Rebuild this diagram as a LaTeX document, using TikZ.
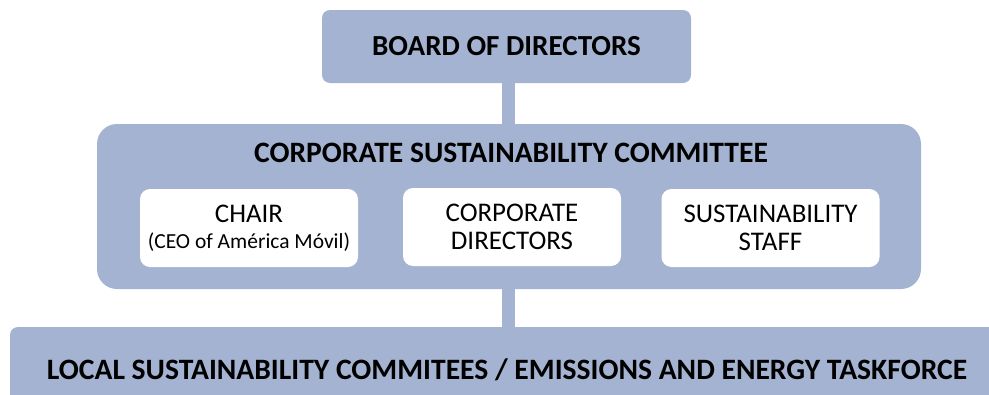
\documentclass[tikz,border=0pt]{standalone}
\usepackage{fontspec}
\setmainfont{Carlito}
\usepackage{tikz, xcolor}
\newcommand{\unitsize}{0.75pt}
\definecolor{boxblue}{HTML}{A4B3D1}

\begin{document}
\begin{tikzpicture}[x=\unitsize,y=\unitsize]
\useasboundingbox (0,0) rectangle (989,394);
\clip (0,0) rectangle (989,394);
\tikzstyle{every node}=[inner sep=0pt, align=center]
\tikzstyle{bluebox}=[fill=boxblue, draw=none]
\tikzstyle{whitebox}=[fill=white, draw=none, rounded corners=10*\unitsize,
			minimum width=218*\unitsize, minimum height=78*\unitsize,
			font=\fontsize{20.2}{20.5}\selectfont]
\tikzstyle{link}=[boxblue, line width=13*\unitsize]

% top box
\node[bluebox, rounded corners=8*\unitsize, minimum width=369*\unitsize,
	minimum height=73*\unitsize, font=\bfseries\fontsize{21.8}{24}\selectfont]
	(board) at (506.5,347.5) {BOARD OF DIRECTORS};

% committee
\node[bluebox, rounded corners=20*\unitsize, minimum width=824*\unitsize,
	minimum height=165*\unitsize] (committee) at (509,187.5) {};
\node[font=\bfseries\fontsize{22.2}{24}\selectfont] (title) at (511,241) {CORPORATE SUSTAINABILITY COMMITTEE};

\node[whitebox] (chair) at (249,166) {CHAIR\\[-1pt]{\fontsize{16.1}{17}\selectfont (CEO of Am\'erica M\'ovil)}};
\node[whitebox] (directors) at (512,167) {CORPORATE\\DIRECTORS};
\node[whitebox] (staff) at (770.5,166) {SUSTAINABILITY\\STAFF};

% bottom bar
\node[bluebox, rounded corners=8*\unitsize, minimum width=994*\unitsize,
	minimum height=86*\unitsize, font=\bfseries\fontsize{22.2}{24}\selectfont]
	(local) at (507,24) {LOCAL SUSTAINABILITY COMMITEES / EMISSIONS AND ENERGY TASKFORCE};

\draw[link] (board.south -| 508.5,0) -- (committee.north -| 508.5,0);
\draw[link] (committee.south -| 508.5,0) -- (local.north -| 508.5,0);

\end{tikzpicture}
\end{document}
